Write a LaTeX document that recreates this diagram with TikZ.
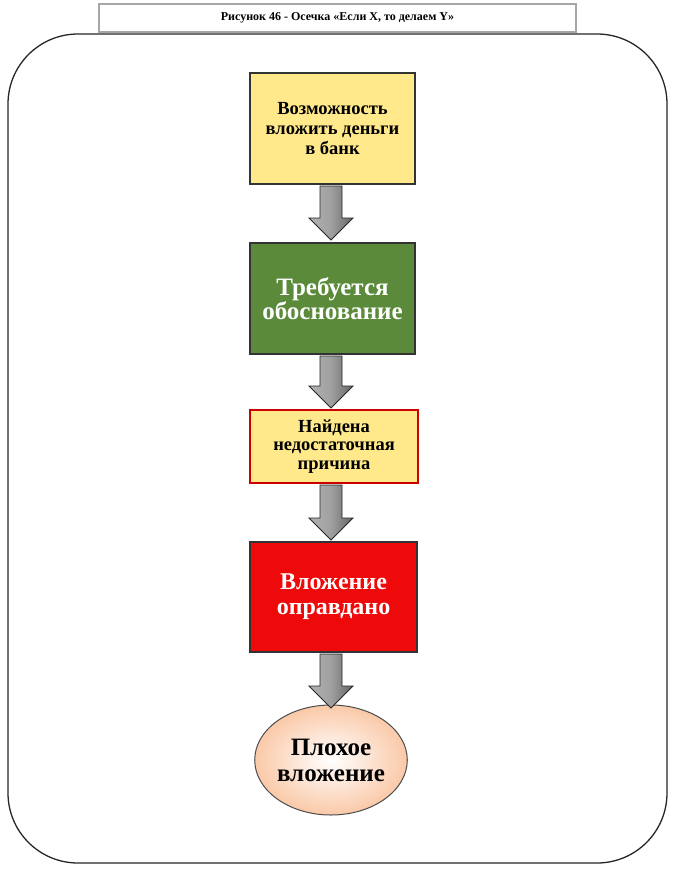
\documentclass[tikz,border=0pt]{standalone}
\usepackage{fontspec}
\setmainfont{Liberation Serif}
\usetikzlibrary{shapes.geometric}
\definecolor{ybox}{HTML}{FFE98A}
\definecolor{gbox}{HTML}{5A8A3A}
\definecolor{rbox}{HTML}{EE0A0A}
\definecolor{peach}{HTML}{FAC9A8}
\tikzset{
 box/.style={draw=#1,line width=1.6pt,minimum width=165pt,align=center,inner sep=1pt,font=\bfseries},
 arr/.style={draw=black!85,line width=0.9pt,left color=gray!60,right color=black!60,middle color=gray!75},
}
\newcommand{\downarr}[3]{%
 \path[arr] (#1-11,#2) -- (#1+11,#2) -- (#1+11,#3-22) -- (#1+22,#3-22) -- (#1,#3) -- (#1-22,#3-22) -- (#1-11,#3-22) -- cycle;}
\begin{document}
\begin{tikzpicture}[x=1pt,y=-1pt]
\useasboundingbox (0,0) rectangle (673,869);
\node[draw=gray!70,line width=1.2pt,fill=white,minimum width=477pt,minimum height=28pt,font=\bfseries\fontsize{12}{13}\selectfont] (title) at (337.5,18) {Рисунок 46 - Осечка «Если X, то делаем Y»};
\draw[black!85,line width=1.3pt,fill=white,rounded corners=70pt] (8,34) rectangle (667,863);
\node[box=black!80,fill=ybox,minimum height=111pt,font=\bfseries\fontsize{18.5}{20}\selectfont] (b1) at (332.5,128.5) {Возможность\\вложить деньги\\в банк};
\node[box=black!80,fill=gbox,text=white,minimum height=111pt,font=\bfseries\fontsize{25}{24}\selectfont] (b2) at (332.5,298.5) {Требуется\\обоснование};
\node[box=red!80!black,fill=ybox,minimum width=168pt,minimum height=73pt,font=\bfseries\fontsize{18.5}{18.5}\selectfont] (b3) at (334,446.5) {Найдена\\недостаточная\\причина};
\node[box=black!80,fill=rbox,text=white,minimum width=167pt,minimum height=110pt,font=\bfseries\fontsize{24}{25}\selectfont] (b4) at (333.5,597) {Вложение\\оправдано};
\node[ellipse,draw=black!70,line width=1pt,inner color=white,outer color=peach,minimum width=144pt,minimum height=110pt,inner sep=0pt,align=center,font=\bfseries\fontsize{25}{26}\selectfont] (e) at (331,760) {Плохое\\вложение};
\downarr{331}{186}{240}
\downarr{331}{356}{408}
\downarr{331}{485}{540}
\downarr{331}{654}{708}
\end{tikzpicture}
\end{document}
